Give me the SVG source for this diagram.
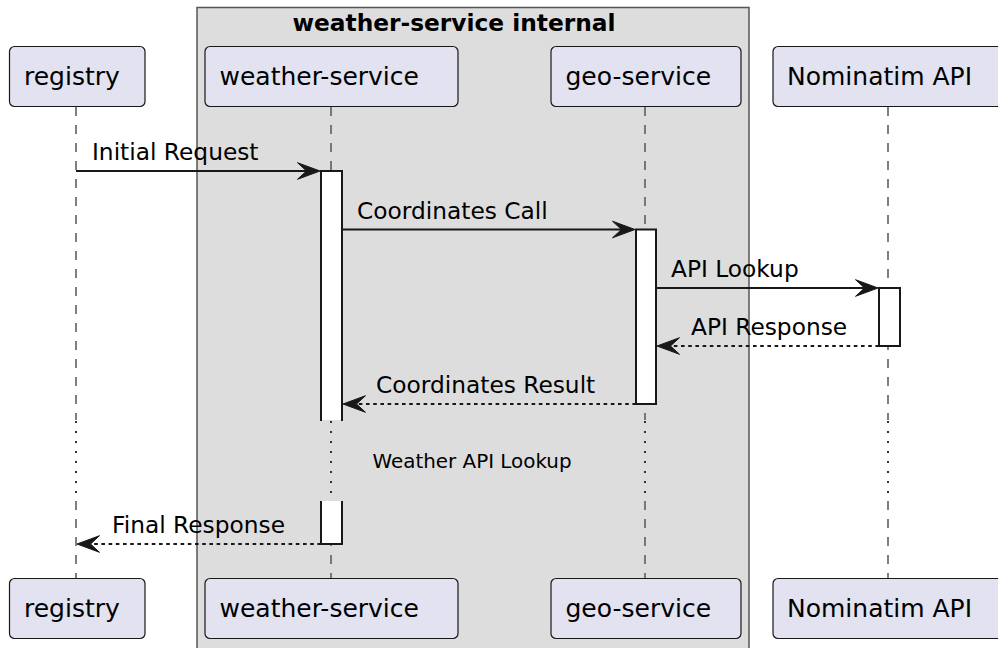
<svg xmlns="http://www.w3.org/2000/svg" width="998" height="648" viewBox="0 0 998 648">
<defs>
<style>
.part{fill:#E2E2F0;stroke:#181818;stroke-width:1.2}
.ptxt{font-family:"DejaVu Sans",sans-serif;font-size:25px;fill:#000}
.mtxt{font-family:"DejaVu Sans",sans-serif;font-size:23.3px;fill:#000}
.life{stroke:#555;stroke-width:1.5;stroke-dasharray:9 9;fill:none}
.delay{stroke:#333;stroke-width:2;stroke-dasharray:2 8;fill:none}
.msg{stroke:#181818;stroke-width:2;fill:none}
.ret{stroke:#181818;stroke-width:2;fill:none;stroke-dasharray:3.6 3.6}
.act{fill:#fff;stroke:none}
.actb{fill:none;stroke:#181818;stroke-width:2}
.head{fill:#181818;stroke:#181818;stroke-width:1}
</style>
</defs>
<rect width="998" height="648" fill="#fff"/>
<g id="group-weather-service-internal">
<rect x="197" y="7.5" width="552" height="660" fill="#DDDDDD" stroke="#555" stroke-width="1.5"/>
<text x="454" y="31" text-anchor="middle" font-family="DejaVu Sans,sans-serif" font-size="23.3" font-weight="bold">weather-service internal</text>
</g>
<g id="lifelines">
<path class="life" d="M76 107V420M76 501V578M331 107V420M331 501V578M645 107V420M645 501V578M888 107V420M888 501V578"/>
<path class="delay" d="M76 421V500M331 421V500M645 421V500M888 421V500"/>
</g>
<g id="activations">
<rect class="act" x="321" y="171" width="21" height="249"/>
<path class="actb" d="M321 421V171H342V421"/>
<rect class="act" x="321" y="501" width="21" height="43"/>
<path class="actb" d="M321 501V544H342V501"/>
<rect x="636" y="229.5" width="20" height="174.5" fill="#fff" stroke="#181818" stroke-width="2"/>
<rect x="879" y="288" width="21" height="58" fill="#fff" stroke="#181818" stroke-width="2"/>
</g>
<g id="connectors">
<g id="m1">
<path class="msg" d="M76 171H312"/>
<path class="head" d="M320 171L297.5 162.7L306.5 171L297.5 179.3Z"/>
<text class="mtxt" x="92" y="160">Initial Request</text>
</g>
<g id="m2">
<path class="msg" d="M342 229.5H627"/>
<path class="head" d="M635 229.5L612.5 221.2L621.5 229.5L612.5 237.8Z"/>
<text class="mtxt" x="357" y="219">Coordinates Call</text>
</g>
<g id="m3">
<path class="msg" d="M656 288H870"/>
<path class="head" d="M878 288L855.5 279.7L864.5 288L855.5 296.3Z"/>
<text class="mtxt" x="671" y="277">API Lookup</text>
</g>
<g id="m4">
<path class="ret" d="M879 346H665"/>
<path class="head" d="M657 346L679.5 337.7L670.5 346L679.5 354.3Z"/>
<text class="mtxt" x="691" y="335">API Response</text>
</g>
<g id="m5">
<path class="ret" d="M636 404H351"/>
<path class="head" d="M343 404L365.5 395.7L356.5 404L365.5 412.3Z"/>
<text class="mtxt" x="376" y="393">Coordinates Result</text>
</g>
<g id="m6">
<path class="ret" d="M321 544H85"/>
<path class="head" d="M77 544L99.5 535.7L90.5 544L99.5 552.3Z"/>
<text class="mtxt" x="112" y="533">Final Response</text>
</g>
<text x="372.5" y="468" font-family="DejaVu Sans,sans-serif" font-size="19.9">Weather API Lookup</text>
</g>
<g id="registry">
<rect class="part" x="9.5" y="46.5" width="135.5" height="60" rx="5"/>
<text class="ptxt" x="24" y="85">registry</text>
<rect class="part" x="9.5" y="578.5" width="135.5" height="60" rx="5"/>
<text class="ptxt" x="24" y="617">registry</text>
</g>
<g id="weather-service">
<rect class="part" x="205" y="46.5" width="253" height="60" rx="5"/>
<text class="ptxt" x="219.5" y="85">weather-service</text>
<rect class="part" x="205" y="578.5" width="253" height="60" rx="5"/>
<text class="ptxt" x="219.5" y="617">weather-service</text>
</g>
<g id="geo-service">
<rect class="part" x="551" y="46.5" width="190" height="60" rx="5"/>
<text class="ptxt" x="565.5" y="85">geo-service</text>
<rect class="part" x="551" y="578.5" width="190" height="60" rx="5"/>
<text class="ptxt" x="565.5" y="617">geo-service</text>
</g>
<g id="nominatim-api">
<rect class="part" x="773" y="46.5" width="230" height="60" rx="5"/>
<text class="ptxt" x="787" y="85">Nominatim API</text>
<rect class="part" x="773" y="578.5" width="230" height="60" rx="5"/>
<text class="ptxt" x="787" y="617">Nominatim API</text>
</g>
</svg>
